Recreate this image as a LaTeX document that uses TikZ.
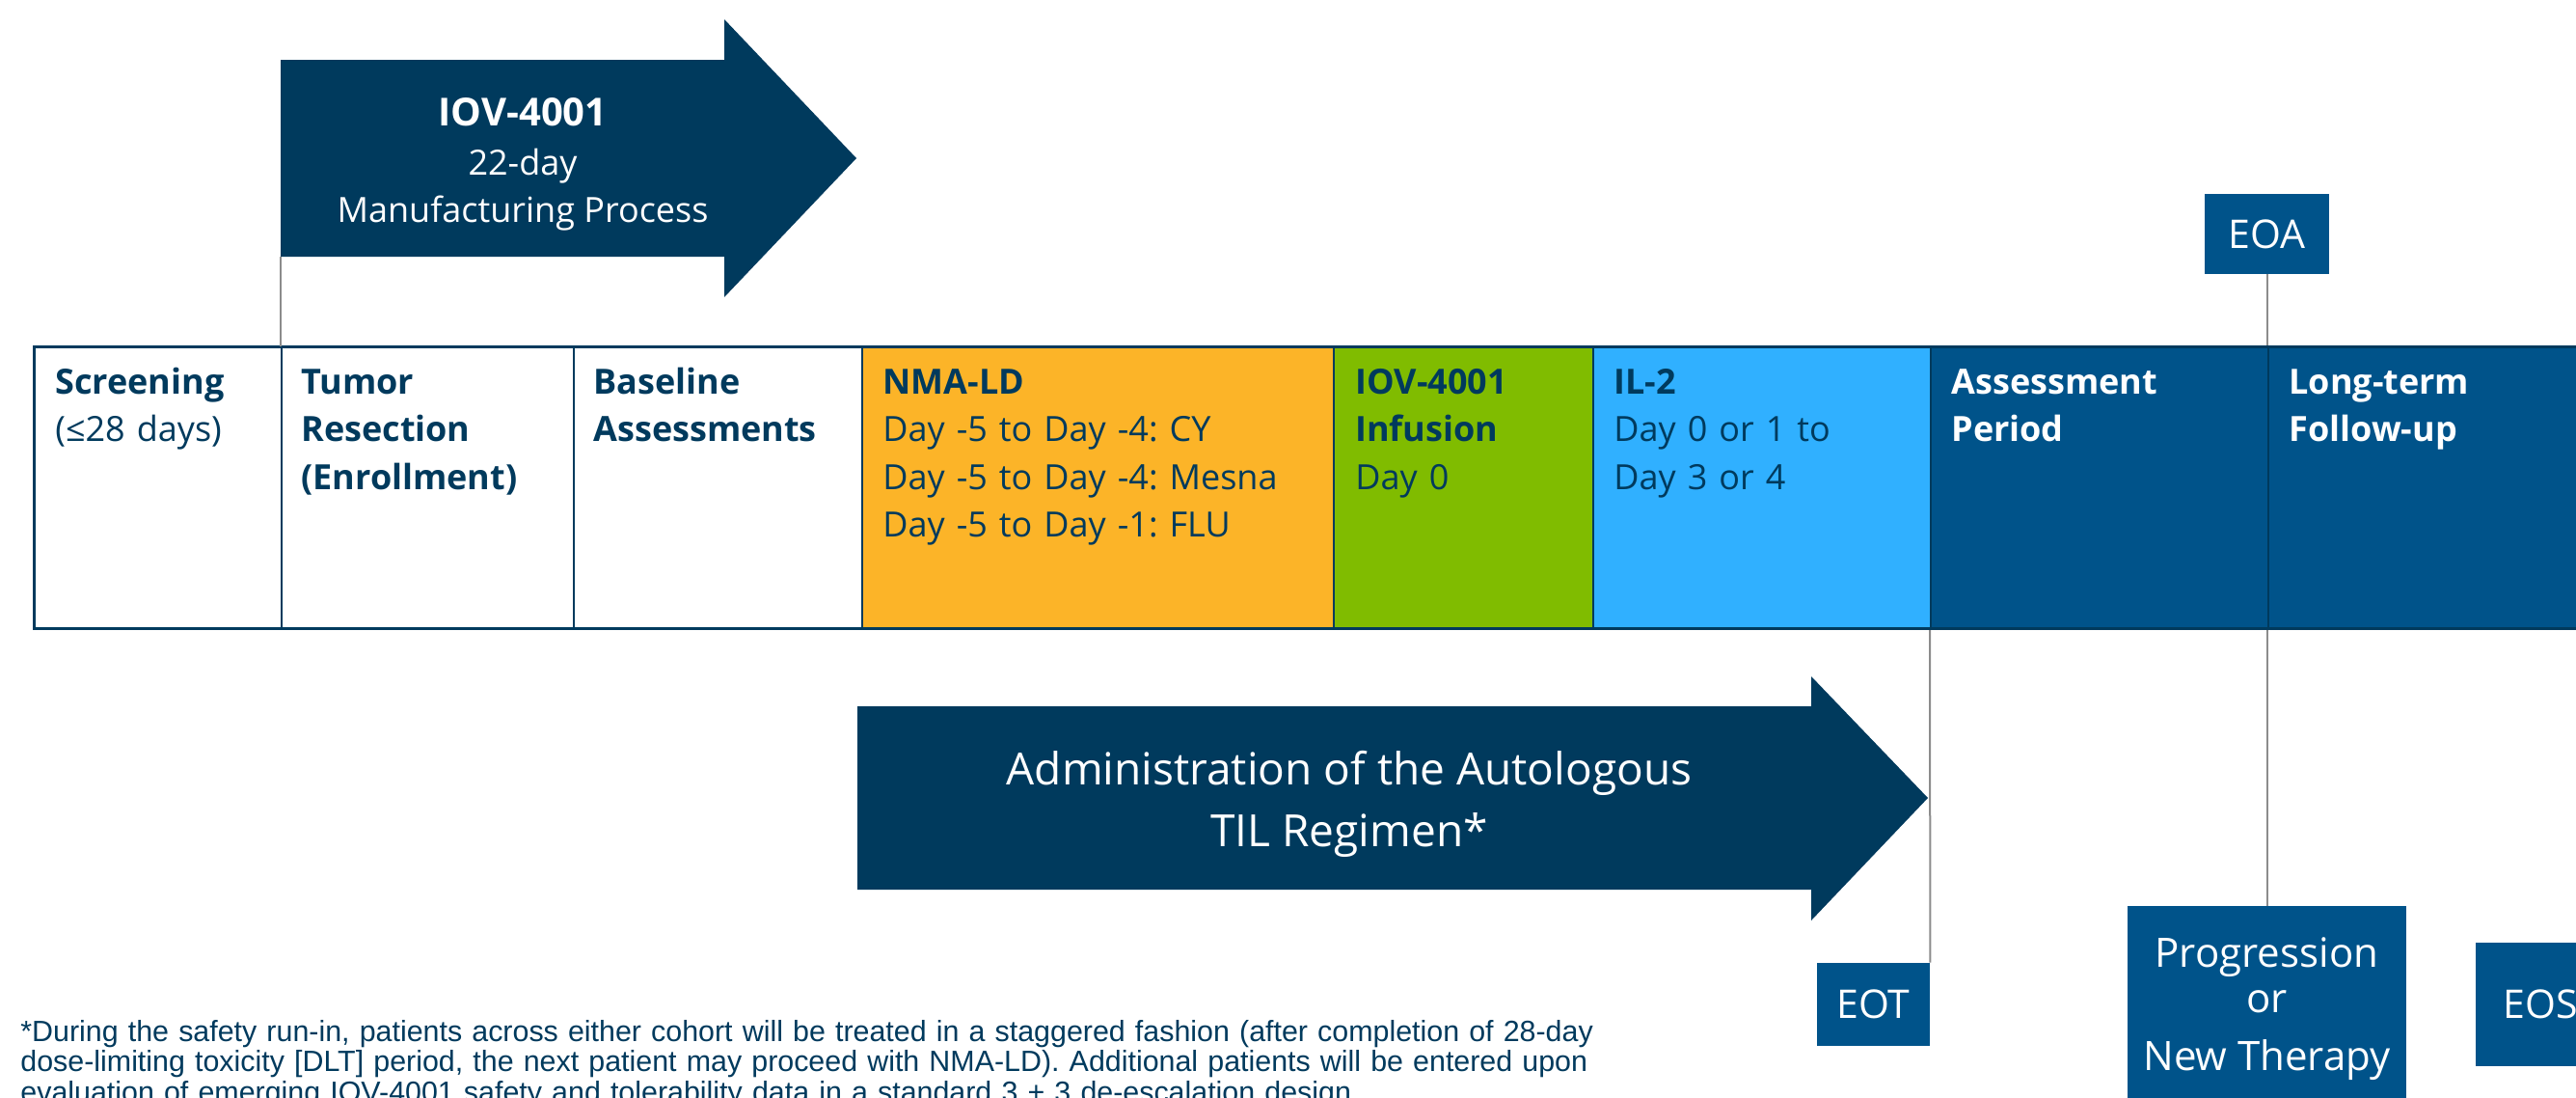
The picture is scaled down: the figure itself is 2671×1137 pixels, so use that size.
\documentclass[tikz,border=0pt]{standalone}
\usepackage{fontspec}
\setmainfont{Open Sans}
\newfontfamily\footfont{Liberation Sans}
\definecolor{navy}{RGB}{0,58,93}
\definecolor{midblue}{RGB}{0,83,138}
\definecolor{ldorange}{RGB}{252,180,40}
\definecolor{ivgreen}{RGB}{128,188,0}
\definecolor{ilblue}{RGB}{48,176,255}
\definecolor{conngray}{RGB}{140,140,140}
\begin{document}
\frenchspacing
\begin{tikzpicture}[x=0.5pt,y=-0.5pt,
  cell/.style={draw=navy, line width=1pt, inner sep=0pt, minimum height=146pt, anchor=north west},
  celltxt/.style={anchor=base west, inner sep=0pt, text width=230pt, align=left, font=\frenchspacing\fontsize{18}{24.75}\selectfont},
  conn/.style={draw=conngray, line width=1pt},
  marker/.style={fill=midblue, inner sep=0pt, text=white, font=\fontsize{20.5}{24}\selectfont},
  arrtxt/.style={anchor=base, inner sep=0pt, text=white}
]
\useasboundingbox (0,0) rectangle (2671,1137);
\clip (0,0) rectangle (2671,1137);
\fill[white] (0,0) rectangle (2671,1137);

% manufacturing arrow
\fill[navy] (291,62) -- (751,62) -- (751,20) -- (888,164) -- (751,308) -- (751,266) -- (291,266) -- cycle;
\coordinate (mfgL) at (291,266);
\node[arrtxt, font=\fontsize{20}{24}\selectfont\bfseries] (mfg1) at (542,130) {IOV-4001};
\node[arrtxt, font=\fontsize{18}{24}\selectfont] (mfg2) at (542,181) {22-day};
\node[arrtxt, font=\fontsize{18}{24}\selectfont] (mfg3) at (542,230) {Manufacturing Process};

% markers
\node[marker, minimum width=64.5pt, minimum height=41.5pt] (eoa) at (2350.5,242.5) {EOA};
\node[marker, minimum width=58.5pt, minimum height=43pt] (eot) at (1942.5,1041) {EOT};
\node[marker, minimum width=67pt, minimum height=64pt] (eos) at (2634,1041) {EOS};
\node[marker, minimum width=144.5pt, minimum height=110.5pt] (prog) at (2350.5,1049.5) {};

% connectors
\draw[conn] (eoa.south) -- (prog.north);

% table
\node[cell, fill=white, minimum width=128pt] (c1) at (35,359) {};
\node[cell, fill=white, minimum width=151.5pt] (c2) at (291,359) {};
\node[cell, fill=white, minimum width=149.5pt] (c3) at (594,359) {};
\node[cell, fill=ldorange, minimum width=244.5pt] (c4) at (893,359) {};
\node[cell, fill=ivgreen, minimum width=134.5pt] (c5) at (1382,359) {};
\node[cell, fill=ilblue, minimum width=175pt] (c6) at (1651,359) {};
\node[cell, fill=midblue, minimum width=175pt] (c7) at (2001,359) {};
\node[cell, fill=midblue, minimum width=170pt] (c8) at (2351,359) {};
\draw[navy, line width=1.5pt] (35,359) rectangle (2700,651);

\draw[conn] (mfgL) -- (c2.north west);
\draw[conn] (c7.south west) -- (eot.north east);

\node[celltxt, text=navy] (t1) at (57,408) {\textbf{Screening}\\(≤28 days)};
\node[celltxt, text=navy] (t2) at (312,408) {\textbf{Tumor\\Resection\\(Enrollment)}};
\node[celltxt, text=navy] (t3) at (615,408) {\textbf{Baseline\\Assessments}};
\node[celltxt, text=navy] (t4) at (915,408) {\textbf{NMA-LD}\\Day -5 to Day -4: CY\\Day -5 to Day -4: Mesna\\Day -5 to Day -1: FLU};
\node[celltxt, text=navy] (t5) at (1405,408) {\textbf{IOV-4001\\Infusion}\\Day 0};
\node[celltxt, text=navy] (t6) at (1673,408) {\textbf{IL-2}\\Day 0 or 1 to\\Day 3 or 4};
\node[celltxt, text=white] (t7) at (2023,408) {\textbf{Assessment\\Period}};
\node[celltxt, text=white] (t8) at (2373,408) {\textbf{Long-term\\Follow-up}};

% administration arrow
\fill[navy] (889,732) -- (1878,732) -- (1878,701) -- (1999,827) -- (1878,954) -- (1878,922) -- (889,922) -- cycle;
\node[arrtxt, font=\fontsize{23}{28}\selectfont] (adm1) at (1399,813) {Administration of the Autologous};
\node[arrtxt, font=\fontsize{23}{28}\selectfont] (adm2) at (1399,877) {TIL Regimen*};

% progression text
\node[arrtxt, font=\fontsize{21}{24}\selectfont] (prog1) at (2350.5,1002) {Progression};
\node[arrtxt, font=\fontsize{21}{24}\selectfont] (prog2) at (2350.5,1049) {or};
\node[arrtxt, font=\fontsize{21}{24}\selectfont] (prog3) at (2350.5,1109) {New Therapy};

% footnote
\node[anchor=base west, inner sep=0pt, text width=900pt, align=left, text=navy, font=\footfont\frenchspacing\fontsize{15.2}{15.85}\selectfont] (foot) at (21,1079)
 {*During the safety run-in, patients across either cohort will be treated in a staggered fashion (after completion of 28-day\\
  dose-limiting toxicity [DLT] period, the next patient may proceed with NMA-LD). Additional patients will be entered upon\\
  evaluation of emerging IOV-4001 safety and tolerability data in a standard 3 + 3 de-escalation design.};
\end{tikzpicture}
\end{document}
